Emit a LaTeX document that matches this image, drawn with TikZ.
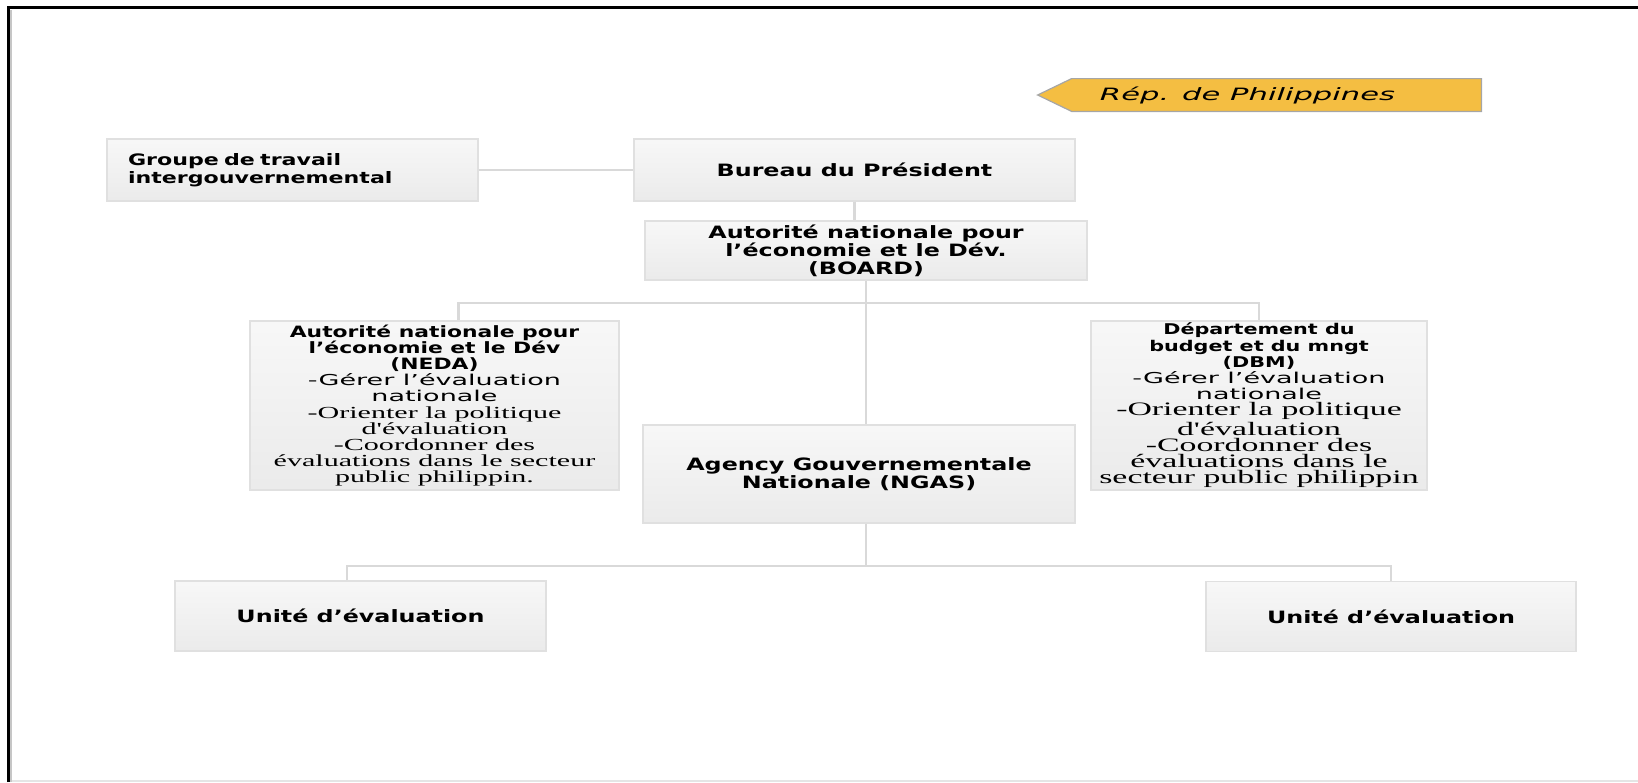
\documentclass[tikz,border=0pt]{standalone}
\usepackage{fontspec}
\setmainfont{DejaVu Sans}
\newfontfamily\titlefont{DejaVu Sans}[FakeStretch=1.4]
\newfontfamily\notefont{DejaVu Sans}[FakeStretch=1.8]
\newfontfamily\listfont{Liberation Serif}[FakeStretch=1.78]
\def\listsize{8.45}
\newcommand\noteln[1]{{\notefont\mdseries\fontsize{7.5}{8.1}\selectfont #1}}
\newcommand\listln[1]{{\listfont\mdseries\fontsize{\listsize}{8.1}\selectfont #1}}
\usetikzlibrary{positioning}
\definecolor{bannerfill}{RGB}{244,190,66}
\definecolor{linkgray}{RGB}{217,217,217}
\definecolor{boxline}{RGB}{224,224,224}
\tikzset{
  box/.style={draw=boxline, line width=0.8pt, top color=gray!6, bottom color=gray!16,
    inner sep=0pt, align=center, font=\titlefont\bfseries\fontsize{8.5}{9}\selectfont},
  listbox/.style={box, font=\titlefont\bfseries\fontsize{#1}{8.1}\selectfont},
  link/.style={draw=linkgray, line width=1.2pt},
  banner/.style={fill=bannerfill, draw=gray!70, line width=0.6pt},
}

\begin{document}
\begin{tikzpicture}[
            x=0.5pt, y=-0.5pt
        ]
        \useasboundingbox (0,0) rectangle (1638,782);
        % frame
        \draw[gray!20, line width=0.8pt] (8,781) -- (1638,781);
        \draw[gray!45, line width=1pt] (11,10) -- (11,782);
        \draw[line width=1.4pt] (8.5,782) -- (8.5,7.5) -- (1638,7.5);
        % banner
        \node[minimum width=204.5pt, minimum height=16pt, inner sep=0pt] (repbox) at (1276.5,95) {};
        \filldraw[banner] ([xshift=-17pt]repbox.west) -- (repbox.north west) -- (repbox.north east)
            -- (repbox.south east) -- (repbox.south west) -- cycle;
        \node[font=\notefont\itshape\fontsize{8.5}{10}\selectfont] (rep) at ([xshift=-14.5pt]repbox.center) {Rép. de Philippines};
        % top level
        \node[box, minimum width=220.5pt, minimum height=31pt] (bureau) at (854.5,170) {Bureau du Président};
        \node[box, minimum width=185.5pt, minimum height=31pt, text width=164.5pt, align=left,
            font=\titlefont\bfseries\fontsize{7.9}{9}\selectfont] (groupe) at (292.5,170)
            {Groupe de travail\\intergouvernemental};
        \path[link] (groupe) -- (bureau);
        % board
        \node[box, minimum width=221pt, minimum height=29.5pt] (board) at (866,250.5)
            {Autorité nationale pour\\l’économie et le Dév.\\(BOARD)};
        \path[link] (bureau.south) -- (bureau.south |- board.north);
        % NEDA and DBM
        \node[listbox=7.8, minimum width=184.5pt, minimum height=84.5pt] (neda) at (434.5,405.5)
            {Autorité nationale pour\\l’économie et le Dév\\(NEDA)\\
             \noteln{-Gérer l’évaluation}\\\noteln{nationale}\\
             \listln{-Orienter la politique}\\\listln{d'évaluation}\\\listln{-Coordonner des}\\
             \listln{évaluations dans le secteur}\\\listln{public philippin.}};
        \node[listbox=7.4, /utils/exec={\def\listsize{9.5}}, minimum width=168pt, minimum height=84.5pt] (dbm) at (1259,405.5)
            {Département du\\budget et du mngt\\(DBM)\\
             \noteln{-Gérer l’évaluation}\\\noteln{nationale}\\
             \listln{-Orienter la politique}\\\listln{d'évaluation}\\\listln{-Coordonner des}\\
             \listln{évaluations dans le}\\\listln{secteur public philippin}};
        \coordinate (upbus) at (866,303);
        \path[link] (board.south) -- (upbus);
        \path[link] ([xshift=12pt]neda.north) |- (upbus) -| (dbm.north);
        % NGAS
        \node[box, minimum width=216pt, minimum height=49pt] (ngas) at (859,474)
            {Agency Gouvernementale\\Nationale (NGAS)};
        \path[link] (upbus) -- (upbus |- ngas.north);
        % evaluation units
        \node[box, minimum width=185.5pt, minimum height=35pt] (unitL) at (360.5,616) {Unité d’évaluation};
        \node[box, minimum width=185pt, minimum height=35pt] (unitR) at (1391,616.5) {Unité d’évaluation};
        \coordinate (lowbus) at (866,566);
        \path[link] (lowbus |- ngas.south) -- (lowbus);
        \path[link] ([xshift=-6.75pt]unitL.north) |- (lowbus) -| (unitR.north);
        \end{tikzpicture}
\end{document}
